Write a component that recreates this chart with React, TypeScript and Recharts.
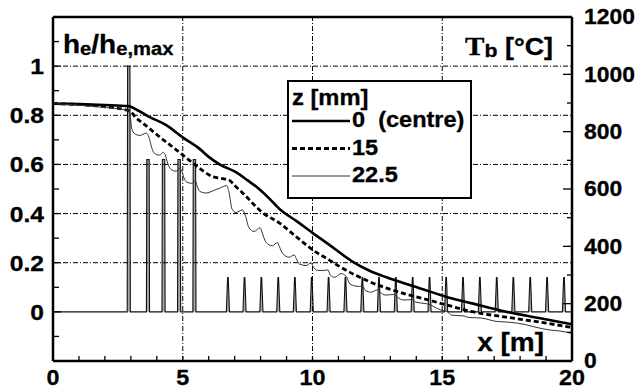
import React from 'react';
import { ComposedChart, Line, Area, XAxis, YAxis, ReferenceLine, Legend } from 'recharts';

// ---------- axis / tick definitions ----------
const xDomain = [0, 20];
const xTicks = [0, 1, 2, 3, 4, 5, 6, 7, 8, 9, 10, 11, 12, 13, 14, 15, 16, 17, 18, 19, 20];
const xLabelled = [0, 5, 10, 15, 20];
const xGrid = [5, 10, 15];

const hDomain = [-0.2, 1.2];
const hTicks = [-0.1, 0, 0.1, 0.2, 0.3, 0.4, 0.5, 0.6, 0.7, 0.8, 0.9, 1.0, 1.1];
const hLabelled = [0, 0.2, 0.4, 0.6, 0.8, 1.0];
const hLabels = ['0', '0.2', '0.4', '0.6', '0.8', '1'];
const hGrid = [0.2, 0.4, 0.6, 0.8, 1.0];

const tDomain = [0, 1200];
const tTicks = [0, 100, 200, 300, 400, 500, 600, 700, 800, 900, 1000, 1100, 1200];
const tLabelled = [0, 200, 400, 600, 800, 1000, 1200];

// ---------- he/he,max spikes (left axis) ----------
const tallSpikeX = [2.92, 3.66, 4.26, 4.86, 5.45];
const tallSpikeH = [1.0, 0.62, 0.62, 0.62, 0.62];
const smallSpikeX = [6.74, 7.38, 8.03, 8.68, 9.32, 9.97, 10.62, 11.27, 11.92, 12.56, 13.21, 13.86, 14.51, 15.15, 15.8, 16.45, 17.1, 17.74, 18.39, 19.04, 19.69];
const smallSpikeH = [0.14, 0.14, 0.14, 0.14, 0.14, 0.14, 0.14, 0.14, 0.14, 0.14, 0.14, 0.14, 0.14, 0.14, 0.14, 0.14, 0.14, 0.14, 0.14, 0.14, 0.14];

// ---------- T_b curves (right axis) ----------
const seriesNames = ['0  (centre)', '15', '22.5'];
const legendTitle = 'z [mm]';

const centreX = [0, 1, 2, 2.9, 3.3, 3.73, 4.38, 5.0, 5.65, 6.0, 6.42, 7.08, 7.5, 7.85, 8.3, 8.73, 9.4, 10.0, 10.65, 11.54, 12.2, 12.85, 13.5, 14.1, 15.27, 16.15, 17.46, 18.73, 20];
const centreT = [898, 896, 893, 889, 873, 851, 822, 780, 740, 712, 686, 657, 630, 607, 570, 530, 487, 447, 405, 347, 315, 292, 272, 255, 221, 201, 172, 150, 128];

const midX = [0, 1.8, 2.96, 3.2, 3.46, 4.12, 4.8, 5.38, 5.65, 6.15, 6.55, 6.81, 7.0, 7.31, 8.08, 8.73, 9.38, 10.0, 10.65, 11.04, 12.19, 13.46, 14.5, 15.15, 16.15, 17.46, 18.73, 20];
const midT = [898, 889, 872, 848, 830, 781, 733, 691, 672, 643, 636, 630, 612, 586, 517, 481, 433, 388, 352, 330, 277, 237, 212, 196, 172, 153, 136, 117];

const edgeX = [0, 1.8, 2.9, 2.98, 3.05, 3.2, 3.35, 3.6, 3.7, 3.8, 3.9, 4.1, 4.25, 4.32, 4.42, 4.55, 4.75, 4.88, 4.95, 5.05, 5.15, 5.35, 5.48, 5.55, 5.65, 5.9, 6.2, 6.45, 6.69, 6.78, 6.9, 7.05, 7.3, 7.42, 7.55, 7.75, 7.98, 8.06, 8.2, 8.45, 8.65, 8.72, 8.85, 9.1, 9.3, 9.37, 9.5, 9.75, 9.95, 10.02, 10.2, 10.45, 10.6, 10.68, 10.85, 11.1, 11.3, 11.45, 11.8, 11.92, 12.05, 12.25, 12.5, 12.6, 12.8, 13.15, 13.28, 13.5, 13.85, 13.95, 14.3, 14.55, 14.7, 14.95, 15.2, 15.35, 15.85, 16.0, 16.5, 17.1, 17.3, 17.9, 18.2, 18.55, 19.15, 19.5, 20];
const edgeT = [898, 886, 874, 850, 805, 790, 787, 795, 780, 745, 725, 718, 728, 720, 690, 668, 662, 672, 665, 638, 624, 620, 628, 612, 592, 586, 595, 604, 612, 590, 530, 518, 527, 505, 465, 452, 465, 448, 415, 402, 413, 400, 375, 362, 370, 358, 338, 333, 342, 330, 316, 316, 318, 300, 292, 305, 295, 268, 260, 262, 245, 240, 248, 240, 230, 232, 222, 213, 214, 206, 201, 196, 188, 178, 172, 160, 157, 152, 150, 138, 137, 132, 127, 119, 108, 105, 96];

// ---------- build library data ----------
const zip = (xs: number[], ys: number[]) =>
  xs.slice(0, Math.min(xs.length, ys.length)).map((x, i) => ({ x, T: ys[i] }));

const centreData = zip(centreX, centreT);
const midData = zip(midX, midT);
const edgeData = zip(edgeX, edgeT);

const TALL_BASE = 0.06, TALL_TOP = 0.045, SMALL_BASE = 0.06, SMALL_TOP = 0.012;
const spikes = [
  ...tallSpikeX.map((c, i) => ({ c, h: tallSpikeH[i], b: TALL_BASE, t: TALL_TOP })),
  ...smallSpikeX.map((c, i) => ({ c, h: smallSpikeH[i], b: SMALL_BASE, t: SMALL_TOP })),
];
const spikeData: { x: number; h: number }[] = [{ x: xDomain[0], h: 0 }];
spikes.forEach((s) => {
  spikeData.push({ x: s.c - s.b, h: 0 }, { x: s.c - s.t, h: s.h }, { x: s.c + s.t, h: s.h }, { x: s.c + s.b, h: 0 });
});
spikeData.push({ x: xDomain[1], h: 0 });

// ---------- styles ----------
const FONT = '"Liberation Sans", Arial, Helvetica, sans-serif';
const SERIF = '"Liberation Serif", "Times New Roman", serif';
const SX = 1.12; // horizontal stretch of the reference lettering
const labelStyle: React.CSSProperties = { fontFamily: FONT, fontWeight: 700, fontSize: 22, fill: '#000', stroke: '#000', strokeWidth: 0.3, whiteSpace: 'pre' };
const seriesStyles = [
  { stroke: '#000', strokeWidth: 2.6, dash: undefined as string | undefined },
  { stroke: '#000', strokeWidth: 2.8, dash: '5 3' },
  { stroke: '#333', strokeWidth: 1, dash: undefined as string | undefined },
];
const GRID_DASH = '5 2 1 2';
const LEFT_MARGIN = 9, RIGHT_MARGIN = 12, BOTTOM_MARGIN = 11;

const near = (arr: number[], v: number) => arr.findIndex((a) => Math.abs(a - v) < 1e-6);

const SText = ({ x, y, anchor = 'start', dy, style, sx = SX, children }: any) => (
  <text transform={`translate(${x},${y}) scale(${sx},1)`} x={0} y={0} dy={dy} textAnchor={anchor} style={style}>
    {children}
  </text>
);

const LeftTick = (p: any) => {
  const v = p.payload.value;
  const idx = near(hLabelled, v);
  const ax = p.x + LEFT_MARGIN;
  return (
    <g>
      <line x1={ax} x2={ax + (idx >= 0 ? 8 : 6)} y1={p.y} y2={p.y} stroke="#000" strokeWidth={1.3} />
      {idx >= 0 && <SText x={p.x} y={p.y} dy="0.36em" anchor="end" style={labelStyle}>{hLabels[idx]}</SText>}
    </g>
  );
};

const RightTick = (p: any) => {
  const v = p.payload.value;
  const major = near(tLabelled, v) >= 0;
  const ax = p.x - RIGHT_MARGIN;
  return (
    <g>
      <line x1={ax} x2={ax - (major ? 9 : 5)} y1={p.y} y2={p.y} stroke="#000" strokeWidth={1.3} />
      {major && <SText x={p.x} y={p.y} dy="0.34em" anchor="start" sx={1.04} style={labelStyle}>{String(v)}</SText>}
    </g>
  );
};

const BottomTick = (p: any) => {
  const v = p.payload.value;
  const major = near(xLabelled, v) >= 0;
  const ay = p.y - BOTTOM_MARGIN;
  return (
    <g>
      <line x1={p.x} x2={p.x} y1={ay} y2={ay - 5} stroke="#000" strokeWidth={1.3} />
      {major && <SText x={p.x} y={p.y + 13} anchor="middle" sx={1.06} style={labelStyle}>{String(v)}</SText>}
    </g>
  );
};

const titleStyle: React.CSSProperties = { fontFamily: FONT, fontWeight: 700, fill: '#000', stroke: '#000', strokeWidth: 0.3, whiteSpace: 'pre' };

const LeftTitle = (props: any) => {
  const vb = props.viewBox || { x: 0, y: 17, width: 53, height: 344 };
  return (
    <SText x={vb.x + vb.width + 10} y={vb.y + 36} style={titleStyle}>
      <tspan fontSize={25}>h</tspan>
      <tspan fontSize={18} dy={2}>e</tspan>
      <tspan fontSize={25} dy={-2}>/h</tspan>
      <tspan fontSize={18} dy={2}>e,max</tspan>
    </SText>
  );
};

const RightTitle = (props: any) => {
  const vb = props.viewBox || { x: 572, y: 17, width: 64, height: 344 };
  return (
    <SText x={vb.x - 19} y={vb.y + 38} anchor="end" style={titleStyle}>
      <tspan fontFamily={SERIF} fontSize={26}>T</tspan>
      <tspan fontSize={19} dy={2}>b</tspan>
      <tspan fontSize={24} dy={-2}> [°C]</tspan>
    </SText>
  );
};

const BottomTitle = (props: any) => {
  const vb = props.viewBox || { x: 53, y: 361, width: 519, height: 28 };
  return (
    <SText x={vb.x + vb.width - 28} y={vb.y - 10} anchor="end" style={{ ...titleStyle, fontSize: 25 }}>
      x [m]
    </SText>
  );
};

const LegendBox = (props: any) => {
  const items = (props.payload || []).filter((e: any) => e.type !== 'none');
  return (
    <div style={{ width: 185, height: 119, boxSizing: 'border-box', border: '2px solid #000', background: '#fff' }}>
      <svg width={181} height={115} style={{ display: 'block' }}>
        <SText x={3} y={23} sx={1.08} style={labelStyle}>{legendTitle}</SText>
        {items.map((e: any, i: number) => {
          const st = seriesStyles[i] || seriesStyles[0];
          const ly = 39 + i * 27.5;
          return (
            <g key={i}>
              <line x1={3} x2={61} y1={ly} y2={ly} stroke={st.stroke} strokeWidth={st.strokeWidth} strokeDasharray={st.dash} />
              <SText x={63} y={ly + 6} sx={1.07} style={labelStyle}>{e.value}</SText>
            </g>
          );
        })}
      </svg>
    </div>
  );
};

export default function App() {
  return (
    <div style={{ position: 'absolute', left: 0, top: 0, width: 636, height: 389, background: '#fff' }}>
      <ComposedChart width={636} height={389} margin={{ top: 17, right: 0, bottom: 0, left: 0 }}>
        <XAxis
          type="number"
          dataKey="x"
          domain={xDomain}
          ticks={xTicks}
          interval={0}
          height={28}
          tickSize={0}
          tickMargin={BOTTOM_MARGIN}
          tickLine={false}
          tick={BottomTick}
          axisLine={{ stroke: '#000', strokeWidth: 2.5 }}
          allowDataOverflow
          label={BottomTitle}
        />
        <YAxis
          yAxisId="h"
          orientation="left"
          type="number"
          domain={hDomain}
          ticks={hTicks}
          interval={0}
          width={53}
          tickSize={0}
          tickMargin={LEFT_MARGIN}
          tickLine={false}
          tick={LeftTick}
          axisLine={{ stroke: '#000', strokeWidth: 2.5 }}
          allowDataOverflow
          label={LeftTitle}
        />
        <YAxis
          yAxisId="T"
          orientation="right"
          type="number"
          domain={tDomain}
          ticks={tTicks}
          interval={0}
          width={64}
          tickSize={0}
          tickMargin={RIGHT_MARGIN}
          tickLine={false}
          tick={RightTick}
          axisLine={{ stroke: '#000', strokeWidth: 2.5 }}
          allowDataOverflow
          label={RightTitle}
        />
        {hGrid.map((g) => (
          <ReferenceLine key={'h' + g} yAxisId="h" y={g} stroke="#000" strokeWidth={1} strokeDasharray={GRID_DASH} />
        ))}
        {xGrid.map((g) => (
          <ReferenceLine key={'x' + g} yAxisId="h" x={g} stroke="#000" strokeWidth={1} strokeDasharray={GRID_DASH} />
        ))}
        <ReferenceLine yAxisId="h" y={hDomain[1]} stroke="#000" strokeWidth={2.5} />
        <Area
          yAxisId="h"
          data={spikeData}
          dataKey="h"
          type="linear"
          stroke="#111"
          strokeWidth={1.1}
          fill="#a8a8a8"
          fillOpacity={1}
          isAnimationActive={false}
          legendType="none"
          dot={false}
          activeDot={false}
        />
        <Line yAxisId="T" data={centreData} dataKey="T" name={seriesNames[0]} type="monotone" stroke={seriesStyles[0].stroke} strokeWidth={seriesStyles[0].strokeWidth} dot={false} activeDot={false} isAnimationActive={false} />
        <Line yAxisId="T" data={midData} dataKey="T" name={seriesNames[1]} type="monotone" stroke={seriesStyles[1].stroke} strokeWidth={seriesStyles[1].strokeWidth} strokeDasharray={seriesStyles[1].dash} dot={false} activeDot={false} isAnimationActive={false} />
        <Line yAxisId="T" data={edgeData} dataKey="T" name={seriesNames[2]} type="monotone" stroke={seriesStyles[2].stroke} strokeWidth={seriesStyles[2].strokeWidth} dot={false} activeDot={false} isAnimationActive={false} />
        <Legend
          layout="vertical"
          align="center"
          verticalAlign="middle"
          wrapperStyle={{ position: 'absolute', left: 287, top: 80, width: 185, height: 119 }}
          content={LegendBox}
        />
      </ComposedChart>
    </div>
  );
}
